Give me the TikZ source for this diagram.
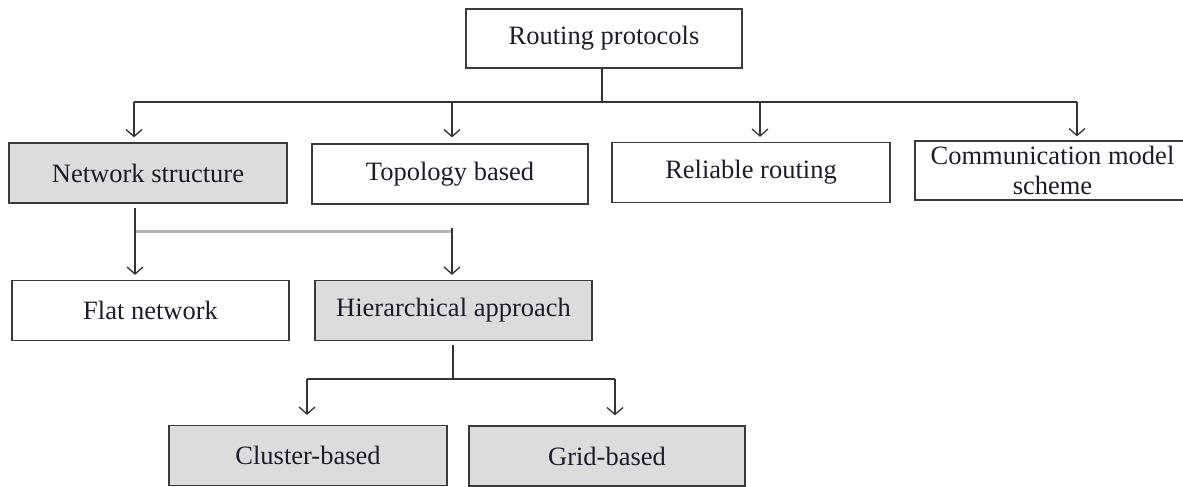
\documentclass[tikz,border=0pt]{standalone}
\usepackage{fontspec}
\setmainfont{Liberation Serif}
\usetikzlibrary{arrows.meta}
\definecolor{boxline}{HTML}{3A3A3A}
\definecolor{boxfill}{HTML}{DCDCDC}
\definecolor{linec}{HTML}{333333}
\definecolor{greyl}{HTML}{B4B4B4}
\definecolor{txt}{HTML}{1C1C2A}
\begin{document}
\begin{tikzpicture}[x=1pt,y=-1pt,
  box/.style={draw=boxline, line width=1.3pt, minimum width=276pt, minimum height=60pt,
    inner sep=0pt, font=\fontsize{26.5}{29.5}\selectfont, text=txt, align=center},
  greybox/.style={box, fill=boxfill},
  link/.style={draw=linec, line width=1.3pt},
  arr/.style={link, -{Straight Barb[length=7pt,width=16pt,line width=1.3pt]}},
  greyline/.style={draw=greyl, line width=3pt},
]
\useasboundingbox (0,0) rectangle (1183,487);
\clip (0,0) rectangle (1183,487);

\node[box, minimum height=59pt] (root) at (604,38.5) {Routing protocols};
\node[greybox, minimum width=278pt] (net) at (148,173) {Network structure};
\node[box] (topo) at (450,174) {Topology based};
\node[box, minimum width=278pt] (rel) at (751,172.5) {Reliable routing};
\node[box, minimum width=275pt, minimum height=59pt] (comm) at (1052.5,170.5) {Communication model\\scheme};
\node[box, minimum width=277pt] (flat) at (150.5,310.5) {Flat network};
\node[greybox, minimum width=277pt] (hier) at (453.5,310.5) {Hierarchical approach};
\node[greybox, minimum width=278pt] (clus) at (308,455.5) {Cluster-based};
\node[greybox] (grid) at (607,456) {Grid-based};

% top level tree
\coordinate (rb) at (602,102);
\coordinate (b1) at (134,102);
\coordinate (b2) at (452,102);
\coordinate (b3) at (760,102);
\coordinate (b4) at (1077,102);
\draw[link] (root.south -| rb) -- (rb);
\draw[link] (b1) -- (b4);
\draw[arr, shorten >=5pt] (b1) -- (b1 |- net.north);
\draw[arr, shorten >=6pt] (b2) -- (b2 |- topo.north);
\draw[arr, shorten >=5pt] (b3) -- (b3 |- rel.north);
\draw[arr, shorten >=4pt] (b4) -- (b4 |- comm.north);

% network structure branch
\coordinate (n1) at (135,231);
\coordinate (n2) at (452,231);
\draw[greyline] (n1) -- (n2);
\draw[arr, shorten <=4pt, shorten >=5pt] (net.south -| n1) -- (n1 |- flat.north);
\draw[arr, shorten <=-3pt, shorten >=5pt] (n2) -- (n2 |- hier.north);

% hierarchical branch
\coordinate (h0) at (453,379);
\coordinate (h1) at (307,379);
\coordinate (h2) at (615,379);
\draw[link, shorten <=4pt] (hier.south -| h0) -- (h0);
\draw[link] (h1) -- (h2);
\draw[arr, shorten >=10pt] (h1) -- (h1 |- clus.north);
\draw[arr, shorten >=10pt] (h2) -- (h2 |- grid.north);
\end{tikzpicture}
\end{document}
